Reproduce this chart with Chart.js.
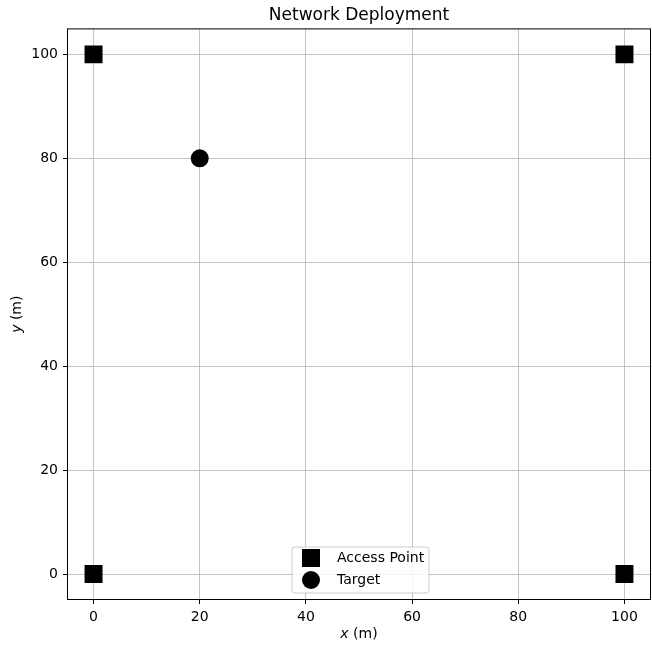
<!DOCTYPE html>
<html>
<head>
<meta charset="utf-8">
<script src="https://cdn.jsdelivr.net/npm/chart.js@4/dist/chart.umd.min.js"></script>
<style>
  html, body { margin: 0; padding: 0; background: #fff; }
  #wrap { width: 652px; height: 646px; }
</style>
</head>
<body>
<div id="wrap"><canvas id="myChart" width="652" height="646"></canvas></div>
<script>
// data
const accessPointX = [0, 100, 0, 100];
const accessPointY = [0, 0, 100, 100];
const targetX = [20];
const targetY = [80];
const tickValues = [0, 20, 40, 60, 80, 100];
const seriesLabels = ['Access Point', 'Target'];

const font = 'DejaVu Sans';
const fs = 14;

function toPoints(xs, ys) {
    return xs.map((x, i) => ({ x: x, y: ys[i] }));
}

// frame, axis titles and an in-plot legend like matplotlib's
const extras = {
    id: 'extras',
    afterDraw(chart) {
        const { ctx, chartArea: a } = chart;
        ctx.save();
        ctx.strokeStyle = '#000';
        ctx.lineWidth = 1;
        ctx.strokeRect(a.left + 0.5, a.top + 0.5, a.right - a.left - 1, a.bottom - a.top - 1);

        const regular = fs + 'px "' + font + '"';
        const italic = 'italic ' + regular;

        // x axis title: italic x + " (m)"
        ctx.fillStyle = '#000';
        ctx.textBaseline = 'middle';
        const cx = (a.left + a.right) / 2;
        ctx.font = italic;
        const w1 = ctx.measureText('x').width;
        ctx.font = regular;
        const w2 = ctx.measureText(' (m)').width;
        let sx = cx - (w1 + w2) / 2;
        ctx.textAlign = 'left';
        ctx.font = italic;
        ctx.fillText('x', sx, 634);
        ctx.font = regular;
        ctx.fillText(' (m)', sx + w1, 634);

        // y axis title rotated
        ctx.save();
        const cy = (a.top + a.bottom) / 2;
        ctx.translate(17, cy);
        ctx.rotate(-Math.PI / 2);
        ctx.font = italic;
        const h1 = ctx.measureText('y').width;
        sx = -(h1 + w2) / 2;
        ctx.fillText('y', sx, 0);
        ctx.font = regular;
        ctx.fillText(' (m)', sx + h1, 0);
        ctx.restore();

        // legend box
        const bx = 292, by = 547, bw = 137, bh = 46, r = 3;
        ctx.beginPath();
        ctx.moveTo(bx + r, by);
        ctx.arcTo(bx + bw, by, bx + bw, by + bh, r);
        ctx.arcTo(bx + bw, by + bh, bx, by + bh, r);
        ctx.arcTo(bx, by + bh, bx, by, r);
        ctx.arcTo(bx, by, bx + bw, by, r);
        ctx.closePath();
        ctx.fillStyle = 'rgba(255,255,255,0.8)';
        ctx.fill();
        ctx.strokeStyle = '#cccccc';
        ctx.stroke();

        ctx.fillStyle = '#000';
        ctx.fillRect(311 - 9, 558 - 9, 18, 18);
        ctx.beginPath();
        ctx.arc(311, 580, 9, 0, Math.PI * 2);
        ctx.fill();
        ctx.font = regular;
        ctx.textAlign = 'left';
        ctx.fillText(seriesLabels[0], 337, 558);
        ctx.fillText(seriesLabels[1], 337, 580);
        ctx.restore();
    }
};

const fixTicks = function (scale) {
    scale.ticks = tickValues.map(v => ({ value: v }));
};

const ctx = document.getElementById('myChart').getContext('2d');
new Chart(ctx, {
    type: 'scatter',
    data: {
        datasets: [
            {
                label: seriesLabels[0],
                data: toPoints(accessPointX, accessPointY),
                pointStyle: 'rect',
                pointRadius: 12.7,
                pointHoverRadius: 12.7,
                backgroundColor: '#000',
                borderColor: '#000',
                borderWidth: 0
            },
            {
                label: seriesLabels[1],
                data: toPoints(targetX, targetY),
                pointStyle: 'circle',
                pointRadius: 9,
                pointHoverRadius: 9,
                backgroundColor: '#000',
                borderColor: '#000',
                borderWidth: 0
            }
        ]
    },
    options: {
        responsive: false,
        animation: false,
        devicePixelRatio: 1,
        layout: { autoPadding: false, padding: { left: 0, right: 1, top: 0, bottom: 0 } },
        scales: {
            x: {
                type: 'linear',
                min: -5,
                max: 105,
                afterBuildTicks: fixTicks,
                afterFit: s => { s.height = 46; s.paddingLeft = 0; s.paddingRight = 0; },
                grid: { color: '#c4c4c4', lineWidth: 1, tickLength: 4, tickColor: '#000' },
                border: { display: false },
                ticks: { color: '#000', font: { family: font, size: fs }, padding: 5 }
            },
            y: {
                type: 'linear',
                min: -5,
                max: 105,
                afterBuildTicks: fixTicks,
                afterFit: s => { s.width = 67; s.paddingTop = 0; s.paddingBottom = 0; },
                grid: { color: '#c4c4c4', lineWidth: 1, tickLength: 4, tickColor: '#000' },
                border: { display: false },
                ticks: { color: '#000', font: { family: font, size: fs }, padding: 5 }
            }
        },
        plugins: {
            legend: { display: false },
            tooltip: { enabled: false },
            title: {
                display: true,
                fullSize: false,
                text: 'Network Deployment',
                color: '#000',
                font: { family: font, size: 17, weight: 'normal' },
                padding: { top: 5, bottom: 3 }
            }
        }
    },
    plugins: [extras]
});
</script>
</body>
</html>
